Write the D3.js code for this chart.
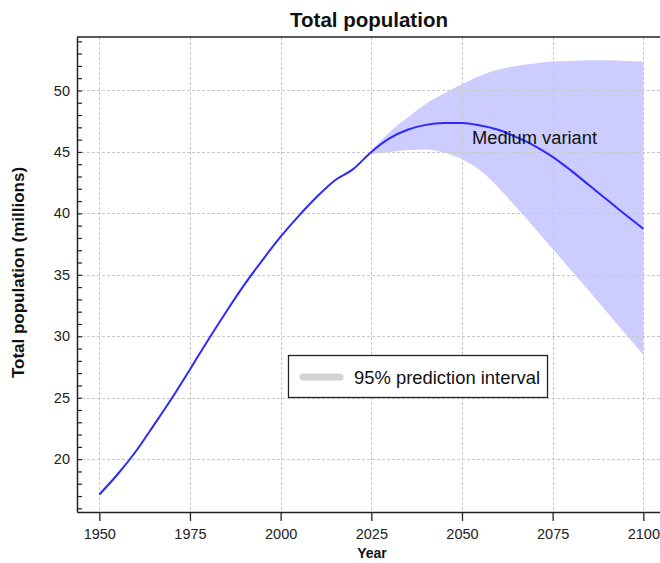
<!DOCTYPE html>
<html>
<head>
<meta charset="utf-8">
<script src="https://cdn.jsdelivr.net/npm/d3@7"></script>
<style>
  html, body { margin: 0; padding: 0; background: #fff; }
  svg { display: block; font-family: "Liberation Sans", Arial, Helvetica, sans-serif; }
</style>
</head>
<body>
<svg id="chart" width="660" height="563"></svg>
<script>
// ---- data ----
const years = [1950,1955,1960,1965,1970,1975,1980,1985,1990,1995,2000,2005,2010,2015,2020,2025,2030,2035,2040,2045,2050,2055,2060,2065,2070,2075,2080,2085,2090,2095,2100];
const medium = [17.12,18.75,20.6,22.75,24.95,27.3,29.7,32.0,34.2,36.2,38.1,39.8,41.35,42.7,43.6,45.0,46.1,46.8,47.2,47.35,47.35,47.15,46.8,46.2,45.5,44.6,43.5,42.3,41.1,39.9,38.75];
const bandYears = [2023,2025,2030,2035,2040,2045,2050,2055,2060,2065,2070,2075,2080,2085,2090,2095,2100];
const bandUpper = [44.5,45.1,46.6,47.8,48.9,49.75,50.5,51.2,51.7,52.0,52.2,52.35,52.4,52.45,52.45,52.4,52.35];
const bandLower = [44.5,44.8,45.0,45.15,45.2,44.95,44.4,43.5,42.1,40.5,38.8,37.1,35.4,33.7,31.95,30.2,28.5];
const xTicks = [1950,1975,2000,2025,2050,2075,2100];
const yTicks = [20,25,30,35,40,45,50];
const yMinor = d3.range(16,55,1);
const titleText = "Total population";
const xLabel = "Year";
const yLabel = "Total population (millions)";
const lineLabel = "Medium variant";
const legendLabel = "95% prediction interval";

// ---- layout ----
const svg = d3.select("#chart");
const L = 77, T = 37, B = 512;
const x = d3.scaleLinear().domain([1943.85, 2104.6]).range([L, 660]);
const y = d3.scaleLinear().domain([15.7, 54.35]).range([B, T]);

// band
const band = bandYears.map((yr,i)=>({yr, lo: bandLower[i], hi: bandUpper[i]}));
svg.append("path")
  .datum(band)
  .attr("fill", "rgb(0,0,255)")
  .attr("fill-opacity", 0.2)
  .attr("d", d3.area().x(d=>x(d.yr)).y0(d=>y(d.lo)).y1(d=>y(d.hi)).curve(d3.curveMonotoneX));

// grid
const grid = svg.append("g").attr("stroke", "#c8c8c8").attr("stroke-width", 1).attr("stroke-dasharray", "3,2");
grid.selectAll(".vg").data(xTicks).join("line")
  .attr("x1", d=>Math.round(x(d))+0.5).attr("x2", d=>Math.round(x(d))+0.5)
  .attr("y1", T).attr("y2", B);
grid.selectAll(".hg").data(yTicks).join("line")
  .attr("y1", d=>Math.round(y(d))+0.5).attr("y2", d=>Math.round(y(d))+0.5)
  .attr("x1", L).attr("x2", 660);

// line
const series = years.map((yr,i)=>({yr, v: medium[i]}));
svg.append("path")
  .datum(series)
  .attr("fill", "none")
  .attr("stroke", "#2a2aff")
  .attr("stroke-width", 2)
  .attr("d", d3.line().x(d=>x(d.yr)).y(d=>y(d.v)).curve(d3.curveMonotoneX));

// axes
const xAxis = d3.axisBottom(x).tickValues(xTicks).tickFormat(d3.format("d")).tickSize(9).tickSizeOuter(0);
const gx = svg.append("g").attr("transform", `translate(0,${B})`).call(xAxis);
gx.select(".domain").attr("stroke", "#222").attr("stroke-width", 1.5);
gx.selectAll(".tick line").attr("stroke", "#222").attr("stroke-width", 1.3);
gx.selectAll(".tick text").attr("font-size", 14.5).attr("fill", "#222").attr("dy", "1.05em")
  .attr("font-family", "Liberation Sans, Arial, sans-serif");

const yAxisMinor = d3.axisLeft(y).tickValues(yMinor).tickSize(-5).tickFormat("").tickSizeOuter(0);
const gym = svg.append("g").attr("transform", `translate(${L},0)`).call(yAxisMinor);
gym.select(".domain").attr("stroke", "#222").attr("stroke-width", 1.5);
gym.selectAll(".tick line").attr("stroke", "#222").attr("stroke-width", 1.2);

const yAxis = d3.axisLeft(y).tickValues(yTicks).tickSize(0).tickPadding(7).tickSizeOuter(0);
const gy = svg.append("g").attr("transform", `translate(${L},0)`).call(yAxis);
gy.select(".domain").remove();
gy.selectAll(".tick text").attr("font-size", 14.5).attr("fill", "#222")
  .attr("font-family", "Liberation Sans, Arial, sans-serif");

// top frame line
svg.append("line").attr("x1", L).attr("x2", 660).attr("y1", T).attr("y2", T)
  .attr("stroke", "#222").attr("stroke-width", 1.5);

// title & labels
svg.append("text").attr("x", 369).attr("y", 27).attr("text-anchor", "middle")
  .attr("font-size", 20.5).attr("font-weight", "bold").attr("fill", "#111").text(titleText);
svg.append("text").attr("x", 372).attr("y", 558).attr("text-anchor", "middle")
  .attr("font-size", 14).attr("font-weight", "bold").attr("fill", "#111").text(xLabel);
svg.append("text").attr("transform", `translate(24,${(T+B)/2 - 2}) rotate(-90)`).attr("text-anchor", "middle")
  .attr("font-size", 17).attr("font-weight", "bold").attr("fill", "#111").text(yLabel);

// line label
svg.append("text").attr("x", 472).attr("y", 144).attr("font-size", 18.3).attr("fill", "#111").text(lineLabel);

// legend
const lg = svg.append("g");
lg.append("rect").attr("x", 288.5).attr("y", 355.5).attr("width", 259).attr("height", 42)
  .attr("fill", "#fff").attr("stroke", "#222").attr("stroke-width", 1.3);
lg.append("line").attr("x1", 303).attr("x2", 340).attr("y1", 377).attr("y2", 377)
  .attr("stroke", "#d3d3d3").attr("stroke-width", 7).attr("stroke-linecap", "round");
lg.append("text").attr("x", 354).attr("y", 383.5).attr("font-size", 18.4).attr("fill", "#111").text(legendLabel);
</script>
</body>
</html>
